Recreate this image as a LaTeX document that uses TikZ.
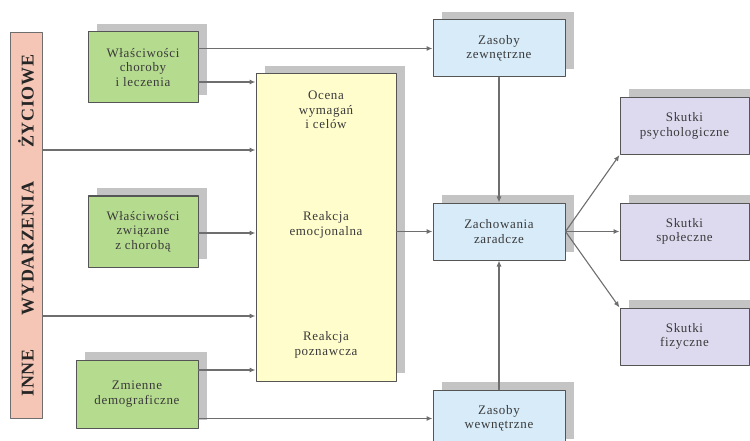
\documentclass[tikz,border=0pt]{standalone}
\usepackage{fontspec}
\setmainfont{Liberation Serif}
\usetikzlibrary{arrows.meta,shadows}

\definecolor{ramka}{HTML}{555555}
\definecolor{linia}{HTML}{6E6E6E}
\definecolor{cien}{HTML}{C4C4C4}
\definecolor{tekst}{HTML}{3A3A3A}
\definecolor{rozowy}{HTML}{F5C6B5}
\definecolor{zielony}{HTML}{B5DB8F}
\definecolor{zolty}{HTML}{FFFDCC}
\definecolor{niebieski}{HTML}{D7EBF9}
\definecolor{fioletowy}{HTML}{DDD9EF}

\newcommand{\pismo}{\fontsize{13}{14.5}\selectfont\addfontfeatures{LetterSpace=5}}

\begin{document}
\begin{tikzpicture}[
    x=1pt, y=-1pt,
    line cap=round,
    line join=round,
    pole/.style={draw=ramka, line width=1pt, align=center,
        text=tekst, font=\pismo,
        drop shadow={shadow xshift=9pt, shadow yshift=8pt,
            fill=cien, opacity=1}},
    napis/.style={align=center, text=tekst, font=\pismo},
    strz/.style={draw=linia, line width=1.1pt,
        -{Latex[length=6pt,width=5pt]}}
]

\useasboundingbox (0,0) rectangle (750,441);

% Pasek po lewej
\node[draw=linia, fill=rozowy, line width=1pt, rotate=90,
      minimum width=385pt, minimum height=32pt,
      font=\fontsize{18}{18}\bfseries\addfontfeatures{LetterSpace=4}, text=black!85]
    (wydarzenia) at (26,225.5)
    {INNE\hspace{34pt}WYDARZENIA\hspace{34pt}ŻYCIOWE};

% Czynniki (zielone)
\node[pole, fill=zielony, minimum width=110pt, minimum height=71pt]
    (choroba) at (143,67.5) {Właściwości\\choroby\\i leczenia};
\node[pole, fill=zielony, minimum width=110pt, minimum height=71pt]
    (zwiazane) at (143,231.5) {Właściwości\\związane\\z chorobą};
\node[pole, fill=zielony, minimum width=122pt, minimum height=68pt]
    (demografia) at (137,394) {Zmienne\\demograficzne};

% Ocena (zolty)
\node[pole, fill=zolty, minimum width=140pt, minimum height=307pt]
    (ocena) at (326,227.5) {};
\node[napis] (wymagania) at (326,110) {Ocena\\wymagań\\i celów};
\node[napis] (emocje) at (326,225) {Reakcja\\emocjonalna};
\node[napis] (poznanie) at (326,345) {Reakcja\\poznawcza};

% Zasoby i zachowania (niebieskie)
\node[pole, fill=niebieski, minimum width=132pt, minimum height=57pt]
    (zewnetrzne) at (499,48.5) {Zasoby\\zewnętrzne};
\node[pole, fill=niebieski, minimum width=132pt, minimum height=57pt]
    (zaradcze) at (499,231.5) {Zachowania\\zaradcze};
\node[pole, fill=niebieski, minimum width=132pt, minimum height=57pt]
    (wewnetrzne) at (499,418.5) {Zasoby\\wewnętrzne};

% Skutki (fioletowe)
\node[pole, fill=fioletowy, minimum width=129pt, minimum height=57pt]
    (psych) at (684.5,126) {Skutki\\psychologiczne};
\node[pole, fill=fioletowy, minimum width=129pt, minimum height=57pt]
    (spol) at (684.5,231.5) {Skutki\\społeczne};
\node[pole, fill=fioletowy, minimum width=129pt, minimum height=57pt]
    (fiz) at (684.5,336.5) {Skutki\\fizyczne};

% Strzalki do oceny
\foreach \s in {75.5,-90.5}{
    \draw[strz] ([yshift=\s pt]wydarzenia.south) coordinate (p)
        -- (p -| ocena.west);
}
\draw[strz] ([yshift=-14.5pt]choroba.east) coordinate (p)
    -- (p -| ocena.west);
\draw[strz] ([yshift=-1.5pt]zwiazane.east) coordinate (p)
    -- (p -| ocena.west);
\draw[strz] ([yshift=24pt]demografia.east) coordinate (p)
    -- (p -| ocena.west);

% Strzalki do zasobow
\draw[strz] (choroba.east |- zewnetrzne.west) -- (zewnetrzne.west);
\draw[strz] (demografia.east |- wewnetrzne.west) -- (wewnetrzne.west);

% Zachowania zaradcze
\draw[strz] (zaradcze.west -| ocena.east) -- (zaradcze.west);
\draw[strz] (zewnetrzne.south) -- (zaradcze.north);
\draw[strz] (wewnetrzne.north) -- (zaradcze.south);

% Skutki
\draw[strz] (zaradcze.east) -- (psych.south west);
\draw[strz] (zaradcze.east) -- (spol.west);
\draw[strz] (zaradcze.east) -- (fiz.north west);

\end{tikzpicture}
\end{document}
